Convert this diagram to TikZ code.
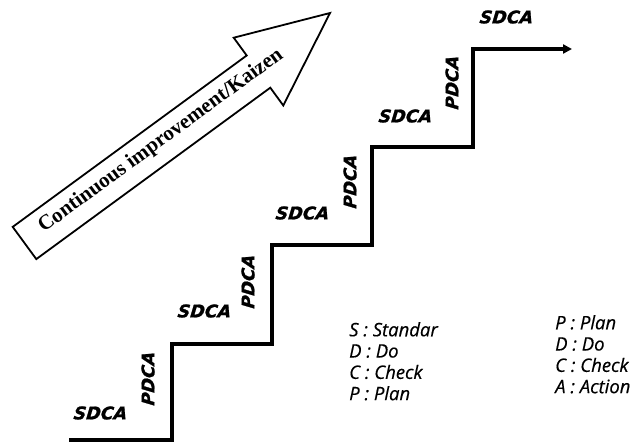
\documentclass[tikz,border=0pt]{standalone}
\usepackage{fontspec}
\usepackage{tikz}
\usetikzlibrary{arrows.meta}
\newfontfamily\stepfont{DejaVu Sans Bold Oblique}[FakeBold=1.2, FakeSlant=0.1]
\newfontfamily\legendfont{Open Sans}[FakeBold=0.4]
\newfontfamily\arrowfont{Liberation Serif}
\tikzstyle{cycle} = [font=\stepfont\fontsize{17.5}{17.5}\selectfont, inner sep=0pt]
\tikzstyle{legend} = [font=\legendfont\itshape\fontsize{18.5}{21.3}\selectfont, align=left, inner sep=0pt, anchor=north west]
\tikzstyle{stairs} = [line width=3.5pt, -{Triangle[length=9pt,width=9pt]}]
\tikzstyle{bigarrow} = [draw=black, fill=white, line width=1.8pt, line join=miter]

\begin{document}
\begin{tikzpicture}[x=1pt, y=-1pt]
\useasboundingbox (0,0) rectangle (641,444);
% big arrow
\draw [bigarrow] (12.7,226.9) -- (246.7,55.5) -- (233.7,37.7) -- (330,13)
    -- (283.3,105.5) -- (270.3,87.7) -- (36.3,259.1) -- cycle;
\node [rotate=36.2, font=\arrowfont\bfseries\fontsize{21}{21}\selectfont] (kaizen) at (161,141)
    {Continuous improvement/Kaizen};
% stairs
\coordinate (start) at (69,440);
\coordinate (finish) at (572,49);
\draw [stairs] (start) -- (172,440) -- (172,344) -- (272,344) -- (272,245)
    -- (372,245) -- (372,147) -- (473,147) -- (473,49) -- (finish);
% labels
\node [cycle] (s1) at (100,413) {SDCA};
\node [cycle, rotate=90] (p1) at (148,379) {PDCA};
\node [cycle] (s2) at (204,311) {SDCA};
\node [cycle, rotate=90] (p2) at (248,282) {PDCA};
\node [cycle] (s3) at (302,213) {SDCA};
\node [cycle, rotate=90] (p3) at (350,182) {PDCA};
\node [cycle] (s4) at (405,116) {SDCA};
\node [cycle, rotate=90] (p4) at (452,83) {PDCA};
\node [cycle] (s5) at (506,17) {SDCA};
% legends
\node [legend] (sdca) at (349,322) {S : Standar\\D : Do\\C : Check\\P : Plan};
\node [legend] (pdca) at (555,315) {P : Plan\\D : Do\\C : Check\\A : Action};
\end{tikzpicture}
\end{document}
